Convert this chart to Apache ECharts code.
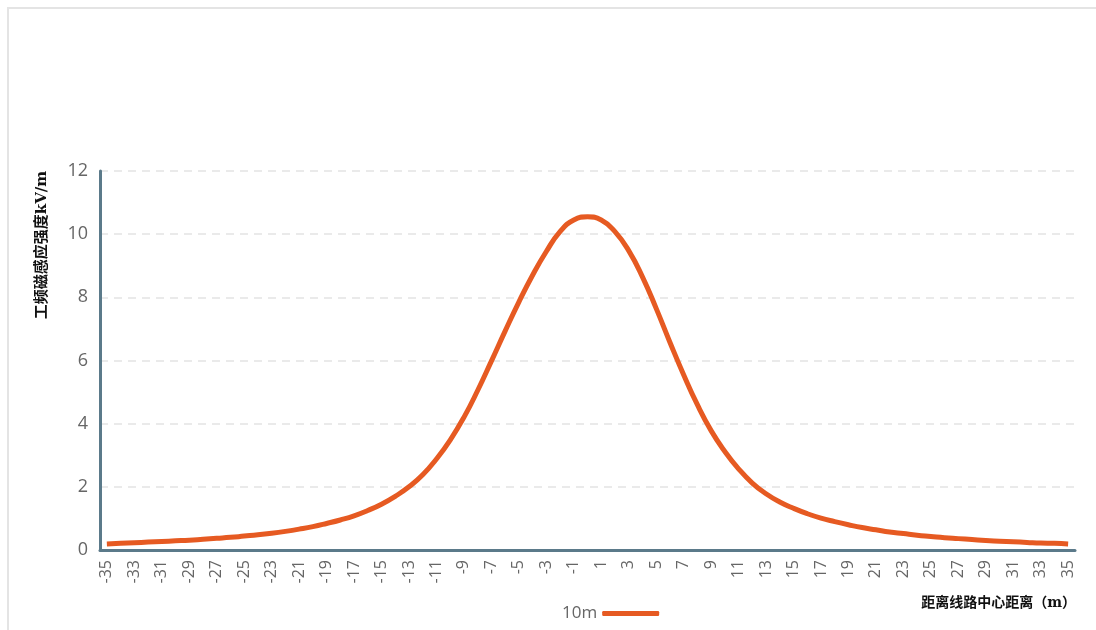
<!DOCTYPE html>
<html>
<head>
<meta charset="utf-8">
<script src="https://cdn.jsdelivr.net/npm/echarts@6/dist/echarts.min.js"></script>
<style>
html,body{margin:0;padding:0;background:#fff;overflow:hidden;}
#frame{position:absolute;left:7px;top:7px;width:1200px;height:700px;border-left:2px solid #e4e4e4;border-top:2px solid #e4e4e4;box-sizing:border-box;}
#chart{position:absolute;left:0;top:0;width:1096px;height:630px;}
</style>
</head>
<body>
<div id="frame"></div>
<div id="chart"></div>
<script>
const categories = [];
for (let k = -35; k <= 35; k++) categories.push(String(k));

const seriesName = '10m';
const leftSide = [0.19,0.21,0.23,0.25,0.27,0.29,0.31,0.34,0.37,0.40,0.44,0.48,0.53,0.59,0.66,0.74,0.84,0.95,1.08,1.25,1.45,1.70,2.00,2.38,2.88,3.48,4.20,5.05,5.98,6.93,7.85,8.70,9.45,10.08,10.45];
const peak = [10.55];
const rightSide = [10.45,10.08,9.48,8.65,7.65,6.58,5.55,4.60,3.78,3.12,2.57,2.12,1.78,1.52,1.32,1.15,1.01,0.90,0.80,0.71,0.64,0.57,0.52,0.47,0.43,0.39,0.36,0.33,0.30,0.28,0.26,0.24,0.22,0.21,0.19];
const values = leftSide.concat(peak, rightSide);

const yTicks = { min: 0, max: 12, interval: 2 };
const yName = '工频磁感应强度kV/m';
const xName = '距离线路中心距离（m）';

const chart = echarts.init(document.getElementById('chart'), null, {renderer: 'canvas'});
chart.setOption({
  animation: false,
  grid: { left: 100, right: 21, top: 171, bottom: 80 },
  legend: {
    data: [{ name: seriesName, icon: 'roundRect' }],
    left: 557, top: 600,
    align: 'right',
    itemWidth: 57, itemHeight: 5,
    textStyle: { color: '#666', fontSize: 17, fontFamily: 'Open Sans, sans-serif' },
    itemGap: 4
  },
  xAxis: {
    type: 'category',
    data: categories,
    boundaryGap: true,
    axisLine: { lineStyle: { color: '#5b7a8a', width: 3 } },
    axisTick: { show: false },
    axisLabel: { interval: 1, rotate: 90, color: '#666', fontSize: 16, fontFamily: 'Open Sans, sans-serif', margin: 10 },
    splitLine: { show: false }
  },
  yAxis: {
    type: 'value',
    min: yTicks.min, max: yTicks.max, interval: yTicks.interval,
    axisLine: { show: true, lineStyle: { color: '#5b7a8a', width: 3 } },
    axisTick: { show: false },
    axisLabel: { color: '#666', fontSize: 18, fontFamily: 'Open Sans, sans-serif', margin: 12 },
    splitLine: { show: true, lineStyle: { color: '#e3e3e3', type: [8, 6], width: 1.5 } }
  },
  series: [{
    name: seriesName,
    type: 'line',
    data: values,
    smooth: true,
    symbol: 'none',
    lineStyle: { color: '#e65a22', width: 5 },
    itemStyle: { color: '#e65a22' }
  }],
  graphic: [
    {
      type: 'text',
      x: 42, y: 245,
      rotation: Math.PI / 2,
      style: {
        text: yName,
        fill: '#111',
        font: 'bold 15px "DejaVu Serif", "Noto Sans CJK SC", serif',
        align: 'center',
        verticalAlign: 'middle'
      }
    },
    {
      type: 'text',
      x: 1076, y: 603,
      style: {
        text: xName,
        fill: '#111',
        font: 'bold 14px "DejaVu Serif", "Noto Sans CJK SC", serif',
        align: 'right',
        verticalAlign: 'middle'
      }
    }
  ]
});
</script>
</body>
</html>
